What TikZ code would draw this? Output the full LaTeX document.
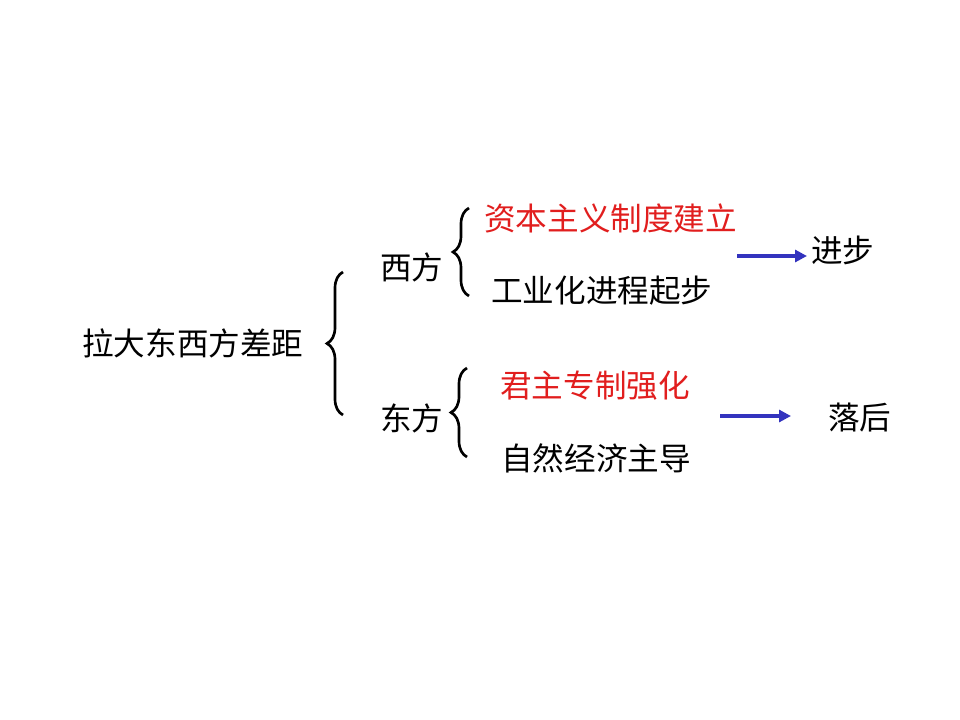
\documentclass[tikz,border=0pt]{standalone}
\usepackage{fontspec}
\setmainfont{Noto Sans CJK SC}
\usetikzlibrary{decorations.pathreplacing,arrows.meta}
\definecolor{redtxt}{RGB}{225,30,30}
\definecolor{arrowblue}{RGB}{51,51,190}
\tikzset{
  lbl/.style={anchor=west,inner sep=0pt,font=\fontsize{23.7pt}{25pt}\selectfont},
  redlbl/.style={lbl,text=redtxt},
  bracestyle/.style={decorate,decoration={brace,amplitude=#1},line width=2pt},
  bluearrow/.style={draw=arrowblue,line width=2.4pt,-{Triangle[length=9pt,width=9pt]}}
}
\begin{document}
\begin{tikzpicture}[x=0.75pt,y=-0.75pt]
\useasboundingbox (0,0) rectangle (960,720);
\node[lbl] (main) at (82,343) {拉大东西方差距};
\node[lbl] (west) at (380,267) {西方};
\node[lbl] (east) at (380,418) {东方};
\node[redlbl] (w1) at (484,218) {资本主义制度建立};
\node[lbl] (w2) at (491,291) {工业化进程起步};
\node[redlbl] (e1) at (500,386) {君主专制强化};
\node[lbl] (e2) at (501,458) {自然经济主导};
\node[lbl] (prog) at (811,250) {进步};
\node[lbl] (back) at (828,418) {落后};
% braces
\coordinate (b0b) at (343,415);
\coordinate (b0t) at (343,272);
\coordinate (b1b) at (469,296);
\coordinate (b1t) at (469,208);
\coordinate (b2b) at (467,457);
\coordinate (b2t) at (467,368);
\draw[bracestyle=12pt] (b0b) -- (b0t);
\draw[bracestyle=12pt] (b1b) -- (b1t);
\draw[bracestyle=12pt] (b2b) -- (b2t);
% arrows
\coordinate (a1s) at (737,256);
\coordinate (a1e) at (807,256);
\coordinate (a2s) at (720,416);
\coordinate (a2e) at (791,416);
\draw[bluearrow] (a1s) -- (a1e);
\draw[bluearrow] (a2s) -- (a2e);
\end{tikzpicture}
\end{document}
